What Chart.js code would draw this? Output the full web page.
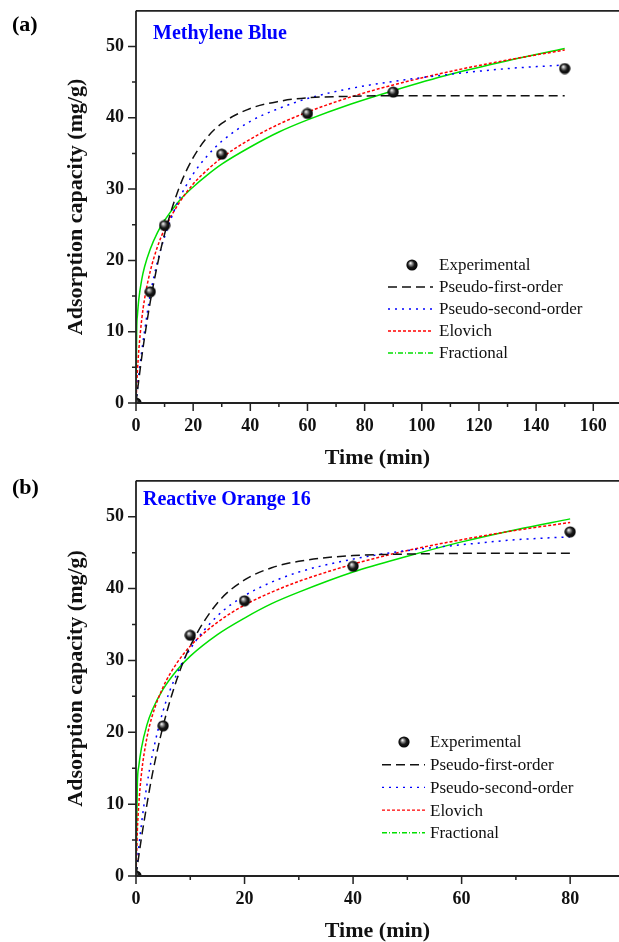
<!DOCTYPE html>
<html>
<head>
<meta charset="utf-8">
<script src="https://cdn.jsdelivr.net/npm/chart.js@4.4.0/dist/chart.umd.min.js"></script>
<style>
  body { margin: 0; background: #fff; width: 619px; height: 942px; overflow: hidden; }
  .box { position: absolute; left: 0; width: 619px; }
  #boxA { top: 0; height: 470px; }
  #boxB { top: 470px; height: 472px; }
</style>
</head>
<body>
<div class="box" id="boxA"><canvas id="kinA"></canvas></div>
<div class="box" id="boxB"><canvas id="kinB"></canvas></div>
<script>
// (a) Methylene Blue
var timeA = [0, 5, 10, 30, 60, 90, 150]
var expA = [0, 15.6, 24.9, 34.9, 40.6, 43.6, 46.9]
var fitTimeA = [0, 0.25, 0.5, 1, 2, 3, 5, 7.5, 10, 15, 20, 25, 30, 40, 50, 60, 75, 90, 110, 130, 150]
var pfoA = [0, 0.85, 1.7, 3.3, 6.4, 9.2, 14.2, 19.4, 23.7, 30.1, 34.4, 37.3, 39.2, 41.3, 42.3, 42.8, 43.0, 43.1, 43.1, 43.1, 43.1]
var psoA = [0, 1.0, 2.0, 3.9, 7.2, 10.1, 15.2, 19.8, 23.3, 28.5, 32.1, 34.7, 36.7, 39.5, 41.3, 42.7, 44.1, 45.1, 46.1, 46.9, 47.4]
var elovA = [0, 2.5, 4.5, 7.5, 11.7, 14.6, 18.5, 21.9, 24.4, 28.0, 30.7, 32.7, 34.4, 37.0, 39.1, 40.8, 42.9, 44.6, 46.5, 48.1, 49.5]
var fracA = [0, 10.4, 12.3, 14.6, 17.3, 19.1, 21.6, 23.9, 25.6, 28.3, 30.3, 32.0, 33.5, 35.9, 38.0, 39.7, 41.9, 43.8, 46.1, 48.0, 49.7]

// (b) Reactive Orange 16
var timeB = [0, 5, 10, 20, 40, 80]
var expB = [0, 20.9, 33.5, 38.3, 43.1, 47.9]
var fitTimeB = [0, 0.25, 0.5, 1, 2, 3, 5, 7.5, 10, 15, 20, 25, 30, 40, 50, 60, 70, 80]
var pfoB = [0, 1.4, 2.7, 5.3, 9.9, 14.1, 20.9, 27.3, 32.0, 38.0, 41.2, 42.9, 43.8, 44.6, 44.8, 44.9, 44.9, 44.9]
var psoB = [0, 2.0, 3.9, 7.2, 12.6, 16.8, 23.0, 28.1, 31.6, 36.2, 39.0, 40.9, 42.3, 44.1, 45.3, 46.1, 46.8, 47.2]
var elovB = [0, 6.3, 9.8, 14.2, 19.2, 22.3, 26.3, 29.6, 32.0, 35.3, 37.7, 39.5, 41.0, 43.4, 45.3, 46.8, 48.1, 49.2]
var fracB = [0, 12.9, 15.2, 17.8, 21.0, 23.1, 26.0, 28.6, 30.6, 33.6, 35.9, 37.9, 39.5, 42.3, 44.5, 46.5, 48.2, 49.7]

var seriesNames = ['Experimental', 'Pseudo-first-order', 'Pseudo-second-order', 'Elovich', 'Fractional']
var yTicks = [0, 10, 20, 30, 40, 50]

var serif = "'Liberation Serif', 'Times New Roman', serif"

// shaded black ball used for the experimental points
var ball = document.createElement('canvas')
ball.width = 12; ball.height = 12
var bc = ball.getContext('2d')
var grad = bc.createRadialGradient(4.3, 4.0, 0.2, 6, 6, 6)
grad.addColorStop(0, '#ffffff')
grad.addColorStop(0.22, '#9a9a9a')
grad.addColorStop(0.55, '#1a1a1a')
grad.addColorStop(1, '#000000')
bc.fillStyle = grad
bc.beginPath(); bc.arc(6, 6, 5.6, 0, Math.PI * 2); bc.fill()

function pts(xs, ys) {
  return xs.map(function (x, i) { return { x: x, y: ys[i] } })
}

var lineStyles = [
  null,
  { color: '#111111', dash: [9, 5] },
  { color: '#0000ff', dash: [2, 5] },
  { color: '#ff0000', dash: [3, 2] },
  { color: '#00e000', dash: [] }
]

// frame, outward ticks (major + minor), panel texts and the legend
var decor = {
  id: 'decor',
  afterDraw: function (chart, args, o) {
    var ctx = chart.ctx, a = chart.chartArea
    var xs = chart.scales.x, ys = chart.scales.y
    ctx.save()
    ctx.strokeStyle = '#222'
    ctx.lineWidth = 1.8
    ctx.beginPath()
    ctx.moveTo(a.left, a.top); ctx.lineTo(a.right + 2, a.top)
    ctx.moveTo(a.left, a.top); ctx.lineTo(a.left, a.bottom)
    ctx.moveTo(a.left - 1, a.bottom); ctx.lineTo(a.right + 2, a.bottom)
    ctx.stroke()
    ctx.lineWidth = 1.5
    ctx.beginPath()
    for (var v = 0; v < ys.max; v += 5) {
      var py = ys.getPixelForValue(v)
      ctx.moveTo(a.left, py); ctx.lineTo(a.left - (v % 10 === 0 ? 8 : 4), py)
    }
    for (var t = 0; t <= xs.max; t += o.minorX) {
      var px = xs.getPixelForValue(t)
      ctx.moveTo(px, a.bottom); ctx.lineTo(px, a.bottom + (t % (o.minorX * 2) === 0 ? 8 : 4))
    }
    ctx.stroke()

    ctx.fillStyle = '#000'
    ctx.textBaseline = 'middle'
    ctx.textAlign = 'left'
    ctx.font = 'bold 22px ' + serif
    ctx.fillText(o.label, 12, o.labelY)
    ctx.fillStyle = '#0000ff'
    ctx.font = 'bold 20px ' + serif
    ctx.fillText(o.dye, o.dyeX, o.dyeY)

    // legend
    ctx.font = '17px ' + serif
    ctx.fillStyle = '#111'
    for (var i = 0; i < seriesNames.length; i++) {
      var ry = o.legY + i * o.legStep
      if (i === 0) {
        ctx.drawImage(ball, o.markX - 6, ry - 6)
      } else {
        var s = lineStyles[i]
        ctx.strokeStyle = s.color
        ctx.lineWidth = 1.4
        ctx.setLineDash(i === 4 ? [5, 2, 1, 2] : s.dash)
        ctx.beginPath(); ctx.moveTo(o.lineX0, ry); ctx.lineTo(o.lineX1, ry); ctx.stroke()
        ctx.setLineDash([])
      }
      ctx.fillStyle = '#111'
      ctx.fillText(seriesNames[i], o.textX, ry + 1)
    }
    ctx.restore()
  }
}

function makeKinetics(id, t, q, ft, fits, xMax, xStep, xH, deco) {
  var sets = [{
    label: seriesNames[0],
    data: pts(t, q),
    showLine: false,
    pointStyle: ball,
    pointRadius: 6
  }]
  for (var i = 0; i < fits.length; i++) {
    sets.push({
      label: seriesNames[i + 1],
      data: pts(ft, fits[i]),
      showLine: true,
      borderColor: lineStyles[i + 1].color,
      borderDash: lineStyles[i + 1].dash,
      borderWidth: 1.5,
      pointRadius: 0,
      fill: false,
      cubicInterpolationMode: 'monotone'
    })
  }
  return new Chart(id, {
    type: 'scatter',
    data: { datasets: sets },
    options: {
      responsive: true,
      maintainAspectRatio: false,
      animation: false,
      devicePixelRatio: 1,
      layout: { autoPadding: false, padding: { top: 1, left: 0, right: 0, bottom: 0 } },
      plugins: { legend: { display: false }, tooltip: { enabled: false }, decor: deco },
      scales: {
        x: {
          type: 'linear', min: 0, max: xMax,
          grid: { display: false, drawTicks: true, tickLength: 13 },
          border: { display: false },
          ticks: { stepSize: xStep, includeBounds: false, padding: 0, color: '#111',
                   font: { family: serif, size: 18, weight: 'bold' } },
          title: { display: true, text: 'Time (min)', color: '#111',
                   font: { family: serif, size: 22, weight: 'bold', lineHeight: 1 },
                   padding: { top: 0, bottom: xH === 67 ? 1 : 0 } },
          afterFit: function (s) { s.height = xH }
        },
        y: {
          min: 0, max: 55,
          grid: { display: false, drawTicks: true, tickLength: 12 },
          border: { display: false },
          afterBuildTicks: function (s) { s.ticks = yTicks.map(function (v) { return { value: v } }) },
          ticks: { padding: 0, color: '#111',
                   font: { family: serif, size: 18, weight: 'bold' } },
          title: { display: true, text: 'Adsorption capacity (mg/g)', color: '#111',
                   font: { family: serif, size: 22, weight: 'bold', lineHeight: 1 },
                   padding: { top: 65, bottom: 0 } },
          afterFit: function (s) { s.width = 136 }
        }
      }
    },
    plugins: [decor]
  })
}

makeKinetics('kinA', timeA, expA, fitTimeA, [pfoA, psoA, elovA, fracA], 169, 20, 67, {
  label: '(a)', labelY: 25, dye: 'Methylene Blue', dyeX: 153, dyeY: 34, minorX: 10,
  legY: 265, legStep: 22, markX: 412, lineX0: 388, lineX1: 433, textX: 439
})

makeKinetics('kinB', timeB, expB, fitTimeB, [pfoB, psoB, elovB, fracB], 89, 20, 66, {
  label: '(b)', labelY: 18, dye: 'Reactive Orange 16', dyeX: 143, dyeY: 30, minorX: 10,
  legY: 272, legStep: 22.7, markX: 404, lineX0: 382, lineX1: 425, textX: 430
})
</script>
</body>
</html>
